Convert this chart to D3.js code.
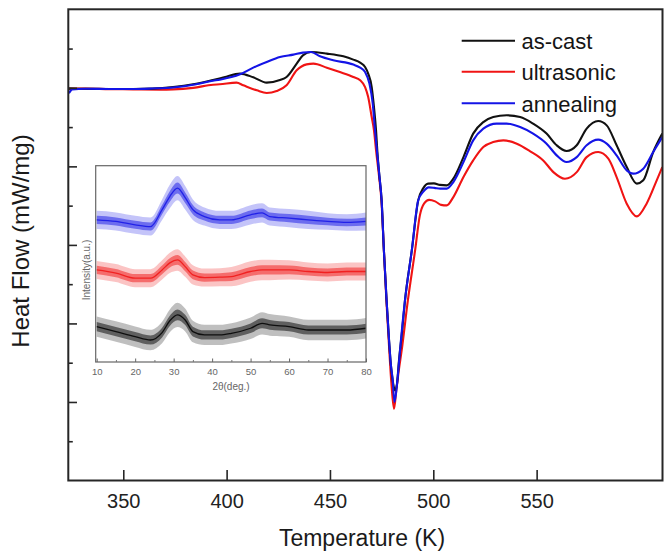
<!DOCTYPE html>
<html><head><meta charset="utf-8">
<script src="https://cdn.jsdelivr.net/npm/d3@7"></script>
<style>
body{margin:0;background:#fff}
svg{display:block}
text{font-family:"Liberation Sans", Arial, Helvetica, sans-serif}
</style>
</head><body>
<svg id="c" width="665" height="553"></svg>
<script>
// ---------- DSC data (Temperature K, Heat flow, arbitrary mW/mg scale) ----------
const asCastT = [323.7,331.7,343.3,354.8,364.1,374.1,383.8,393.4,398.8,406.5,412.9,419.4,425.8,429.0,433.9,436.9,440.8,448.5,456.5,461.3,464.6,467.0,468.5,470.2,471.3,472.3,472.9,473.9,475.0,476.1,477.4,478.6,479.5,480.5,481.5,482.4,483.4,484.7,486.3,489.6,492.7,495.1,497.5,500.3,503.2,506.5,509.7,514.6,519.3,524.2,529.0,535.5,542.0,548.3,554.8,559.7,564.5,569.4,574.2,579.8,583.9,588.7,593.6,598.5,601.6,606.4,610.8];
const asCastHF = [-1.01,-1.012,-1.015,-1.015,-1.01,-0.99,-0.955,-0.90,-0.866,-0.819,-0.866,-0.934,-0.90,-0.862,-0.692,-0.586,-0.544,-0.564,-0.599,-0.641,-0.679,-0.735,-0.819,-0.99,-1.245,-1.541,-1.796,-2.115,-2.433,-3.07,-3.707,-4.217,-4.535,-4.752,-4.854,-4.777,-4.471,-4.153,-3.707,-3.07,-2.433,-2.28,-2.22,-2.217,-2.236,-2.242,-2.157,-1.882,-1.583,-1.436,-1.372,-1.35,-1.372,-1.456,-1.583,-1.732,-1.805,-1.732,-1.52,-1.423,-1.478,-1.732,-2.009,-2.22,-2.178,-1.818,-1.583];

const ultrasonicT = [323.7,331.7,343.3,354.8,367.8,374.1,383.8,393.4,396.7,404.8,408.1,414.6,419.4,424.2,429.0,433.9,438.7,442.0,448.5,454.8,461.3,464.6,467.0,468.5,470.2,471.3,472.3,473.7,474.9,476.1,477.3,478.7,479.8,481.0,482.1,483.3,484.7,487.7,491.2,493.5,495.6,498.0,500.9,503.8,506.5,509.7,514.6,519.3,524.2,529.0,533.9,540.4,546.7,553.2,558.1,563.7,569.4,574.2,579.8,584.7,588.7,593.6,598.5,603.2,608.1,610.8];
const ultrasonicHF = [-1.01,-1.01,-1.017,-1.02,-1.023,-1.02,-1.0,-0.96,-0.955,-0.934,-0.968,-1.032,-1.066,-1.041,-0.968,-0.777,-0.701,-0.692,-0.743,-0.799,-0.862,-0.904,-0.99,-1.117,-1.372,-1.541,-1.796,-2.115,-2.433,-3.07,-3.707,-4.344,-4.79,-5.087,-4.85,-4.60,-4.344,-3.707,-3.07,-2.624,-2.471,-2.427,-2.446,-2.49,-2.497,-2.391,-2.136,-1.924,-1.754,-1.69,-1.669,-1.711,-1.805,-1.924,-2.073,-2.157,-2.073,-1.882,-1.818,-1.902,-2.136,-2.475,-2.637,-2.475,-2.178,-2.009];

const annealingT = [323.7,325.3,331.7,343.3,354.8,364.1,374.1,383.8,393.4,396.7,406.5,412.9,419.4,425.8,432.3,436.9,440.8,445.2,451.6,461.3,464.6,467.0,469.1,470.7,471.8,472.7,473.9,475.0,476.1,477.4,478.6,479.5,480.3,481.2,482.4,483.4,483.9,486.3,489.6,492.7,495.3,497.8,500.5,503.4,506.5,509.7,514.6,519.3,524.2,530.6,535.5,542.0,548.3,554.8,559.7,564.5,569.4,574.2,579.8,583.9,588.7,593.6,596.7,601.6,606.4,610.8];
const annealingHF = [-1.07,-1.02,-1.012,-1.015,-1.015,-1.008,-0.995,-0.96,-0.91,-0.896,-0.828,-0.743,-0.671,-0.608,-0.577,-0.552,-0.544,-0.599,-0.65,-0.704,-0.743,-0.799,-0.946,-1.201,-1.541,-1.796,-2.115,-2.433,-3.07,-3.707,-4.217,-4.535,-4.70,-5.003,-4.79,-4.497,-4.344,-3.707,-3.07,-2.433,-2.318,-2.268,-2.274,-2.284,-2.284,-2.2,-1.945,-1.669,-1.52,-1.456,-1.456,-1.499,-1.583,-1.711,-1.86,-1.945,-1.882,-1.732,-1.66,-1.711,-1.86,-2.051,-2.093,-2.029,-1.818,-1.627];

const seriesNames = ["as-cast","ultrasonic","annealing"];
const seriesColors = ["#111111","#f01414","#1414e6"];
const xTickValues = [350,400,450,500,550];

// ---------- XRD inset data (2θ deg, intensity a.u., noise half-width) ----------
const xrdTheta = [10,15,20,24,27,29,31,33,35,38,42,45,50,53,55,60,65,70,75,80];
const xrdAsCast = [18.0,15.5,12.9,11.2,15.0,21.0,24.0,21.4,15.5,13.8,13.8,14.6,17.2,19.7,18.9,18.0,16.3,16.3,16.3,17.2];
const xrdUltrasonic = [46.9,45.3,42.7,42.7,46.9,50.5,52.0,48.6,44.4,43.0,43.2,43.5,46.1,46.9,46.9,46.9,46.1,45.6,46.1,46.1];
const xrdAnnealing = [72.4,71.6,69.9,69.0,77.6,84.3,88.6,83.7,77.6,74.1,72.4,72.4,75.0,76.0,74.1,73.3,72.4,71.6,71.1,71.6];
const xrdAsCastSpread = [5.2,5.2,5.2,5.2,5.5,5.8,6.2,5.8,5.5,5.2,5.2,5.2,5.5,5.7,5.5,5.2,5.2,5.2,5.2,5.2];
const xrdUltrasonicSpread = [4.6,4.6,4.6,4.6,4.9,5.2,5.5,5.2,4.9,4.6,4.6,4.9,5.2,5.2,5.2,4.9,4.6,4.6,4.6,4.6];
const xrdAnnealingSpread = [4.6,4.6,4.6,4.6,5.2,6.0,6.2,6.0,5.2,4.6,4.6,4.6,4.9,4.9,4.6,4.6,4.6,4.2,4.2,4.6];
const xrdTicks = [10,20,30,40,50,60,70,80];

// ---------- layout ----------
const svg = d3.select("#c");
const L = 68.3, R = 662.5, T = 9.3, B = 480.5;
const x = d3.scaleLinear().domain([323.4, 610.9]).range([L, R]);
const y = d3.scaleLinear().domain([-6, 0]).range([B, T]);
const axisColor = "#262626";

// curves
const dsc = [
  d3.zip(ultrasonicT, ultrasonicHF),
  d3.zip(asCastT, asCastHF),
  d3.zip(annealingT, annealingHF)
];
const dscColor = [seriesColors[1], seriesColors[0], seriesColors[2]];
const line = d3.line().x(d => x(d[0])).y(d => y(d[1])).curve(d3.curveMonotoneX);
svg.append("defs").append("clipPath").attr("id","clip")
  .append("rect").attr("x",L).attr("y",T).attr("width",R-L).attr("height",B-T);
const g = svg.append("g").attr("clip-path","url(#clip)");
dsc.forEach((d,i) => {
  g.append("path").datum(d).attr("d", line)
    .attr("fill","none").attr("stroke", dscColor[i]).attr("stroke-width",2.1)
    .attr("stroke-linejoin","round");
});

// x axis
const xAxis = d3.axisBottom(x).tickValues(xTickValues).tickSizeInner(-10.5).tickSizeOuter(0).tickPadding(13);
const gx = svg.append("g").attr("transform",`translate(0,${B})`).call(xAxis);
gx.select(".domain").remove();
gx.selectAll(".tick line").attr("stroke",axisColor).attr("stroke-width",1.6);
gx.selectAll(".tick text").attr("font-size",20).attr("fill","#222")
  .attr("font-family","'Liberation Sans', Arial, sans-serif");

// y axis (no labels; major + minor inward ticks)
const yMajor = d3.axisLeft(y).tickValues([-1,-2,-3,-4,-5]).tickSizeInner(-8.7).tickSizeOuter(0).tickFormat("");
const yMinor = d3.axisLeft(y).tickValues([-0.5,-1.5,-2.5,-3.5,-4.5,-5.5]).tickSizeInner(-4.5).tickSizeOuter(0).tickFormat("");
[yMajor,yMinor].forEach(ax => {
  const gy = svg.append("g").attr("transform",`translate(${L},0)`).call(ax);
  gy.select(".domain").remove();
  gy.selectAll(".tick line").attr("stroke",axisColor).attr("stroke-width",1.6);
});

// frame
svg.append("rect").attr("x",L).attr("y",T).attr("width",R-L).attr("height",B-T)
  .attr("fill","none").attr("stroke",axisColor).attr("stroke-width",2);

// axis titles
svg.append("text").attr("x",362).attr("y",546).attr("text-anchor","middle")
  .attr("font-size",23).attr("fill","#1a1a1a").text("Temperature (K)");
svg.append("text").attr("transform","translate(29,241) rotate(-90)").attr("text-anchor","middle")
  .attr("font-size",24).attr("fill","#1a1a1a").text("Heat Flow (mW/mg)");

// legend
const legY = [40.7, 71.7, 103.3];
seriesNames.forEach((n,i) => {
  svg.append("line").attr("x1",461.7).attr("x2",515).attr("y1",legY[i]).attr("y2",legY[i])
    .attr("stroke",seriesColors[i]).attr("stroke-width",2.1);
  svg.append("text").attr("x",521.5).attr("y",legY[i]+8.5).attr("font-size",22)
    .attr("fill","#151515").text(n);
});

// ---------- inset ----------
const iL = 95.7, iR = 366, iT = 165.7, iB = 362;
const xi = d3.scaleLinear().domain([10,80]).range([96.7, 366]);
const yi = d3.scaleLinear().domain([0,100]).range([iB, iT]);
const ins = svg.append("g");
const xrdSets = [
  {m: xrdAnnealing, s: xrdAnnealingSpread, c: seriesColors[2]},
  {m: xrdUltrasonic, s: xrdUltrasonicSpread, c: seriesColors[1]},
  {m: xrdAsCast, s: xrdAsCastSpread, c: "#000"}
];
xrdSets.forEach(set => {
  const data = xrdTheta.map((t,i) => ({t, m: set.m[i], s: set.s[i]}));
  const outer = d3.area().x(d => xi(d.t)).y0(d => yi(d.m - d.s)).y1(d => yi(d.m + d.s)).curve(d3.curveMonotoneX);
  const inner = d3.area().x(d => xi(d.t)).y0(d => yi(d.m - d.s*0.45)).y1(d => yi(d.m + d.s*0.45)).curve(d3.curveMonotoneX);
  const mid = d3.line().x(d => xi(d.t)).y(d => yi(d.m)).curve(d3.curveMonotoneX);
  ins.append("path").datum(data).attr("d",outer).attr("fill",set.c).attr("opacity",0.25);
  ins.append("path").datum(data).attr("d",inner).attr("fill",set.c).attr("opacity",0.5);
  ins.append("path").datum(data).attr("d",mid).attr("fill","none").attr("stroke",set.c).attr("stroke-width",1.3).attr("opacity",0.85);
});
ins.append("rect").attr("x",iL).attr("y",iT).attr("width",iR-iL).attr("height",iB-iT)
  .attr("fill","none").attr("stroke","#666").attr("stroke-width",1.2);
const xiAxis = d3.axisBottom(xi).tickValues(xrdTicks).tickSizeInner(-3.5).tickSizeOuter(0).tickPadding(6);
const gxi = svg.append("g").attr("transform",`translate(0,${iB})`).call(xiAxis);
gxi.select(".domain").remove();
gxi.selectAll(".tick line").attr("stroke","#666");
gxi.selectAll(".tick text").attr("font-size",9.5).attr("fill","#666")
  .attr("font-family","'Liberation Sans', Arial, sans-serif");
const xiMinor = d3.axisBottom(xi).tickValues([15,25,35,45,55,65,75]).tickSizeInner(-2).tickSizeOuter(0).tickFormat("");
const gxm = svg.append("g").attr("transform",`translate(0,${iB})`).call(xiMinor);
gxm.select(".domain").remove();
gxm.selectAll(".tick line").attr("stroke","#777");
svg.append("text").attr("x",231).attr("y",390).attr("text-anchor","middle")
  .attr("font-size",10).attr("fill","#666").text("2θ(deg.)");
svg.append("text").attr("transform","translate(90,270) rotate(-90)").attr("text-anchor","middle")
  .attr("font-size",10).attr("fill","#666").text("Intensity(a.u.)");
</script>
</body></html>
